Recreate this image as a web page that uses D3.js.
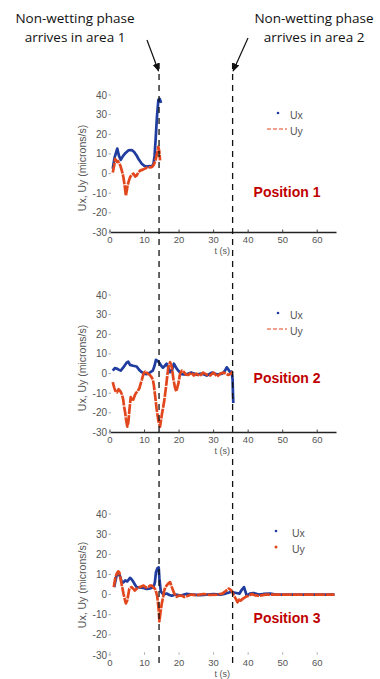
<!DOCTYPE html>
<html>
<head>
<meta charset="utf-8">
<script src="https://cdn.jsdelivr.net/npm/d3@7"></script>
<style>
  body { margin: 0; background: #fff; }
  svg { display: block; font-family: "Liberation Sans", Arial, sans-serif; }
</style>
</head>
<body>
<div id="container"></div>
<script>
/* DATA */
// arrival times of the non-wetting phase (s)
const arrivalTimes = [14.2, 35.5];
const arrivalNotes = [["Non-wetting phase", "arrives in area 1"], ["Non-wetting phase", "arrives in area 2"]];

const xTicks = [0, 10, 20, 30, 40, 50, 60];
const yTicks = [40, 30, 20, 10, 0, -10, -20, -30];
const seriesNames = ["Ux", "Uy"];
const positionNames = ["Position 1", "Position 2", "Position 3"];

// Position 1
const pos1UxT = [0.8, 1.3, 2.1, 2.6, 3.1, 3.8, 4.5, 5.3, 6.3, 7.0, 7.7, 8.4, 9.2, 9.9, 10.6, 11.4, 12.1, 12.6, 12.9, 13.2, 13.6, 14.0, 14.4, 14.8];
const pos1UxV = [2.5, 8, 12.7, 9, 7, 9, 10.5, 11.8, 12, 11, 9.2, 7, 5, 4, 3.6, 3.8, 3.6, 5, 9, 17, 29, 37.5, 38, 36];
const pos1UyT = [0.8, 1.2, 1.5, 2.0, 2.3, 3.0, 3.5, 3.9, 4.3, 4.6, 5.1, 5.5, 5.8, 6.3, 6.8, 7.3, 7.7, 8.2, 8.7, 9.5, 10.6, 11.4, 12.1, 12.5, 12.8, 13.2, 13.6, 14.0, 14.3, 14.5];
const pos1UyV = [0.5, 4, 7.5, 6, 6.4, 4, 1, -2, -7, -11.3, -6, -3.5, -1.9, -0.5, 0, -1.5, -1, 0.5, 1.5, 2, 3, 3.2, 3.3, 4, 5, 7, 10, 13.6, 11, 6.7];

// Position 2
const pos2UxT = [0.8, 1.4, 1.9, 2.5, 3.1, 3.8, 4.8, 5.3, 5.8, 6.7, 7.7, 8.4, 9.2, 9.9, 10.6, 11.5, 12.4, 12.9, 13.3, 13.8, 14.3, 14.8, 15.3, 15.9, 16.4, 16.9, 17.4, 18.0, 18.5, 19.3, 20.0, 20.8, 22, 23.5, 25, 26.5, 28, 29.5, 31, 32.5, 33.3, 33.8, 34.3, 34.8, 35.2, 35.5, 35.6, 35.7];
const pos2UxV = [1.5, 2.8, 2.6, 2, 1.5, 3, 5.5, 6, 4.4, 4, 3.6, 2, 0.7, 0, -0.3, 0.5, 1.5, 4, 7, 6.5, 5.5, 4, 3, 4, 5, 3, 0.7, 2, 5, 2.5, 1, -0.3, -0.5, 0.5, -0.5, 0, -1, 0.5, -0.5, 0, 1.5, 3.2, 2, 0.7, 1, -3, -10, -15];
const pos2UyT = [0.8, 1.2, 1.5, 2.0, 2.5, 3.0, 3.4, 3.8, 4.1, 4.4, 4.6, 5.0, 5.3, 5.6, 6.0, 6.4, 6.8, 7.2, 7.5, 8.0, 8.5, 8.9, 9.2, 9.7, 10.2, 10.6, 11.1, 11.5, 11.9, 12.4, 12.7, 13.0, 13.5, 14.0, 14.5, 15.0, 15.4, 15.7, 16.2, 16.6, 16.9, 17.4, 17.9, 18.4, 18.8, 19.2, 19.8, 20.3, 20.8, 21.3, 22.0, 22.7, 23.5, 24.3, 25.0, 26.0, 27.0, 28.0, 29.0, 30.0, 31.0, 32.0, 33.0, 34.2, 35.1, 35.5];
const pos2UyV = [-4.4, -7, -8.7, -9.5, -8, -9, -10.4, -13, -17, -20, -23, -27, -25, -19, -12, -14, -13, -11, -10, -9, -7.5, -5, -3.3, 0, 1, 0.5, -0.3, -0.7, -1.5, -3, -6, -10.4, -18, -24, -27, -21, -17, -14, -7, -1, 3.4, 5.8, 3.2, -3.3, -7, -9, -5, 0, 1.5, 1, -0.5, -0.7, 0.5, -1, 0, -1.2, 0.5, -0.5, -1, 0.5, -1.5, 0, 0.5, -0.7, 0, 1];

// Position 3
const pos3UxT = [1.2, 1.6, 1.9, 2.3, 2.7, 3.1, 3.4, 3.9, 4.4, 5.0, 5.8, 6.3, 6.8, 7.2, 7.7, 8.5, 9.7, 10.6, 11.6, 12.6, 13.0, 13.3, 13.7, 14.1, 14.3, 14.7, 15.5, 16.4, 17.2, 17.9, 19, 20.5, 22, 24, 26, 28, 30, 32, 33.5, 34.5, 35.2, 35.9, 36.6, 37.5, 38.2, 38.8, 39.6, 40.5, 41.5, 43, 44.4, 46.4, 48, 55, 60, 65];
const pos3UxV = [3.7, 7, 9.4, 10, 10, 8, 6.2, 6, 7, 6.5, 8.3, 7.5, 6.2, 5, 3.7, 3.5, 3.3, 2.8, 3, 3.7, 6, 11, 13, 13.5, 8, 1.6, 0, 0.5, -0.2, -0.6, 0, -0.5, 0.3, 0, -0.3, 0, 0.2, 0, 0.5, 1, 1.6, 1, 0.8, 0.5, 2.5, 3.7, -0.6, 0.5, 0.8, 0, 0.3, 0.5, 0, 0, 0, 0];
const pos3UyT = [1.1, 1.5, 2.0, 2.4, 2.7, 3.1, 3.5, 3.9, 4.3, 4.6, 5.0, 5.6, 6.2, 6.7, 7.2, 7.8, 8.5, 9.1, 9.7, 10.4, 11.1, 11.6, 12.1, 12.6, 13.0, 13.4, 13.7, 14.1, 14.3, 14.6, 15.0, 15.4, 15.7, 16.0, 16.4, 16.9, 17.4, 17.9, 18.6, 19.3, 20.0, 20.8, 21.5, 22.2, 23.5, 25, 27, 29, 31, 32.5, 33.4, 34.4, 35.2, 35.9, 36.4, 36.9, 37.4, 37.8, 38.5, 39.3, 40.2, 41.1, 42.0, 43.1, 45, 50, 55, 60, 65];
const pos3UyV = [3.7, 8, 10.6, 11.5, 11, 7.5, 4, 0.5, -2.5, -4.4, -2.8, 2.9, 3.7, 3, 2, 3, 3.7, 4, 4.5, 3.5, 3.7, 4.5, 4.5, 3.5, 2.9, 1, -1.2, -7.6, -13.3, -9, -4.4, -1, 2, 3.5, 4.5, 5.5, 6.2, 3.7, 0.5, -1.1, -0.5, -0.5, -1.2, -0.8, 0, -0.3, 0.3, -0.2, 0, 0.5, 1.6, 3, 2, -0.6, -2, -3.8, -2.5, -3, -2, -1.1, -0.5, 0.3, -0.4, -0.6, 0, 0, 0, 0, 0];

/* CONSTANTS AND GLOBALS */
const width = 380, height = 679;
const blue = "#1f3c9e", red = "#e2461c";

const zip = (ts, vs) => ts.map((t, i) => ({ t: t, v: vs[i] }));

// layout of each panel (pixels), data from the arrays above
const panels = [
  { top: 95, bottom: 232.5, axisLine: true, ux: zip(pos1UxT, pos1UxV), uy: zip(pos1UyT, pos1UyV), legendY: 115, labelY: 197, titleY: 168 },
  { top: 295, bottom: 432.5, axisLine: true, ux: zip(pos2UxT, pos2UxV), uy: zip(pos2UyT, pos2UyV), legendY: 315, labelY: 383, titleY: 368 },
  { top: 514, bottom: 655, axisLine: false, ux: zip(pos3UxT, pos3UxV), uy: zip(pos3UyT, pos3UyV), legendY: 533, labelY: 623, titleY: 585 }
];

const svg = d3.select("#container")
  .append("svg")
  .attr("width", width)
  .attr("height", height);

const xScale = d3.scaleLinear()
  .domain([0, 65])
  .range([110, 334.5]);

panels.forEach((p, i) => {
  const yScale = d3.scaleLinear()
    .domain([-30, 40])
    .range([p.bottom, p.top]);

  const g = svg.append("g");

  // x axis
  const xAxisY = p.bottom;
  if (p.axisLine) {
    g.append("line")
      .attr("x1", xScale(0) - 1).attr("x2", xScale(65) + 2)
      .attr("y1", xAxisY).attr("y2", xAxisY)
      .attr("stroke", "#222").attr("stroke-width", 1.3);
  }
  g.selectAll(".xtick")
    .data(xTicks)
    .join("line")
    .attr("x1", d => xScale(d)).attr("x2", d => xScale(d))
    .attr("y1", xAxisY).attr("y2", xAxisY - 3)
    .attr("stroke", p.axisLine ? "#444" : "#bbb");
  g.selectAll(".xlabel")
    .data(xTicks)
    .join("text")
    .attr("x", d => xScale(d))
    .attr("y", xAxisY + 10.5)
    .attr("text-anchor", "middle")
    .attr("font-size", 9.5)
    .attr("fill", "#555")
    .text(d => d);
  g.append("text")
    .attr("x", xScale(32.5))
    .attr("y", xAxisY + 21.5)
    .attr("text-anchor", "middle")
    .attr("font-size", 9)
    .attr("fill", "#555")
    .text("t (s)");

  // y axis labels (no axis line in the original)
  g.selectAll(".ylabel")
    .data(yTicks)
    .join("text")
    .attr("x", 107)
    .attr("y", d => yScale(d))
    .attr("dy", "0.35em")
    .attr("text-anchor", "end")
    .attr("font-size", 10)
    .attr("fill", "#555")
    .text(d => d);
  g.selectAll(".ytick")
    .data(yTicks)
    .join("line")
    .attr("x1", 108.5).attr("x2", 111)
    .attr("y1", d => yScale(d)).attr("y2", d => yScale(d))
    .attr("stroke", "#aaa");
  g.append("text")
    .attr("transform", `translate(86,${p.titleY}) rotate(-90)`)
    .attr("text-anchor", "middle")
    .attr("font-size", 10.5)
    .attr("fill", "#555")
    .text("Ux, Uy (microns/s)");

  // lines
  const lineGen = d3.line()
    .x(d => xScale(d.t))
    .y(d => yScale(d.v));

  g.append("path")
    .datum(p.ux)
    .attr("fill", "none")
    .attr("stroke", blue)
    .attr("stroke-width", 2.7)
    .attr("stroke-linejoin", "round")
    .attr("d", lineGen);

  g.append("path")
    .datum(p.uy)
    .attr("fill", "none")
    .attr("stroke", red)
    .attr("stroke-width", 2.7)
    .attr("stroke-linejoin", "round")
    .attr("stroke-dasharray", "10,1")
    .attr("d", lineGen);

  // legend
  const lx = 290;
  g.append("circle")
    .attr("cx", i === 2 ? 276 : 278).attr("cy", p.legendY - 2)
    .attr("r", 1.3).attr("fill", blue);
  if (i === 2) {
    g.append("circle")
      .attr("cx", 276).attr("cy", p.legendY + 14)
      .attr("r", 1.5).attr("fill", red);
  } else {
    g.append("line")
      .attr("x1", 267).attr("x2", 287)
      .attr("y1", p.legendY + 14).attr("y2", p.legendY + 14)
      .attr("stroke", red).attr("stroke-width", 1.2)
      .attr("stroke-dasharray", "4,2");
  }
  g.selectAll(".legend")
    .data(seriesNames)
    .join("text")
    .attr("x", i === 2 ? lx + 2 : lx)
    .attr("y", (d, k) => p.legendY + k * 16)
    .attr("dy", "0.35em")
    .attr("font-size", 10.5)
    .attr("fill", "#555")
    .text(d => d);

  // position label
  g.append("text")
    .attr("x", 287)
    .attr("y", p.labelY)
    .attr("text-anchor", "middle")
    .attr("font-size", 14)
    .attr("font-weight", "bold")
    .attr("fill", "#c00000")
    .text(positionNames[i]);
});

// dashed arrival lines
svg.selectAll(".arrival")
  .data(arrivalTimes)
  .join("line")
  .attr("x1", d => xScale(d)).attr("x2", d => xScale(d))
  .attr("y1", 63).attr("y2", 666)
  .attr("stroke", "#111")
  .attr("stroke-width", 1.3)
  .attr("stroke-dasharray", "6,5");

// annotations with arrows
svg.append("defs").append("marker")
  .attr("id", "head")
  .attr("viewBox", "0 0 10 10")
  .attr("refX", 9).attr("refY", 5)
  .attr("markerWidth", 7).attr("markerHeight", 7)
  .attr("orient", "auto")
  .append("path")
  .attr("d", "M0,1 L10,5 L0,9 Z")
  .attr("fill", "#111");

const noteX = [75, 314];
const arrowFrom = [[147, 40], [248, 38]];
arrivalNotes.forEach((lines, i) => {
  svg.append("text")
    .attr("text-anchor", "middle")
    .attr("font-family", "'Open Sans', sans-serif")
    .attr("font-size", 13.5)
    .attr("fill", "#111")
    .selectAll("tspan")
    .data(lines)
    .join("tspan")
    .attr("x", noteX[i])
    .attr("y", (d, k) => 23 + k * 19)
    .text(d => d);

  svg.append("line")
    .attr("x1", arrowFrom[i][0]).attr("y1", arrowFrom[i][1])
    .attr("x2", xScale(arrivalTimes[i]) + (i === 0 ? -0.5 : 0.5)).attr("y2", 71)
    .attr("stroke", "#111")
    .attr("stroke-width", 1.2)
    .attr("marker-end", "url(#head)");
});
</script>
</body>
</html>
